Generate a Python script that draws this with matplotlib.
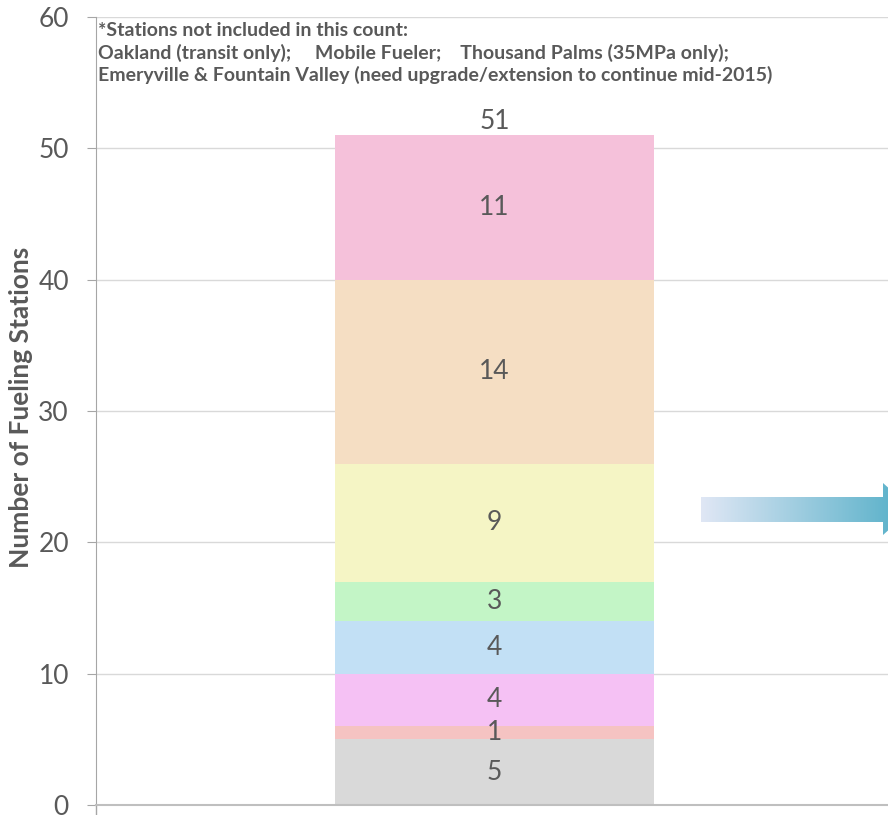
import numpy as np
import matplotlib.pyplot as plt
from matplotlib.patches import Polygon
from matplotlib.colors import LinearSegmentedColormap

# station counts, bottom to top
counts = [5, 1, 4, 4, 3, 9, 14, 11]
colors = ['#D9D9D9', '#F5C3C2', '#F5C1F4', '#C2E0F5', '#C3F5C6', '#F5F5C5', '#F5DEC3', '#F5C1DA']
total = sum(counts)
yticks = [0, 10, 20, 30, 40, 50, 60]
note = ['*Stations not included in this count:',
        'Oakland (transit only);     Mobile Fueler;    Thousand Palms (35MPa only);',
        'Emeryville & Fountain Valley (need upgrade/extension to continue mid-2015)']

plt.rcParams['font.family'] = ['Lato', 'DejaVu Sans']
grey = '#595959'

fig = plt.figure(figsize=(8.88, 8.15), dpi=100)
ax = fig.add_axes([96/888, 10/815, 797/888, 788/815])

bottom = 0
for c, col in zip(counts, colors):
    ax.bar(0, c, width=0.4, bottom=bottom, color=col, zorder=2)
    ax.text(0, bottom + c/2, str(c), ha='center', va='center', fontsize=19, color=grey, zorder=3)
    bottom += c
ax.text(0, total + 1.05, str(total), ha='center', va='center', fontsize=19, color=grey)

ax.set_xlim(-0.5, 0.5)
ax.set_ylim(0, 60)
ax.set_yticks(yticks)
ax.set_xticks([])
ax.tick_params(axis='y', length=6.5, color='#A6A6A6', labelsize=19, labelcolor=grey, pad=13)
ax.grid(axis='y', color='#D9D9D9', lw=1, zorder=0)
ax.set_axisbelow(True)
for s in ['top', 'right']:
    ax.spines[s].set_visible(False)
ax.spines['left'].set_color('#A6A6A6')
ax.spines['bottom'].set_color('#BFBFBF')
ax.spines['bottom'].set_linewidth(1.5)

fig.text(21/888, 0.5, 'Number of Fueling Stations', rotation=90, ha='center', va='center',
         fontsize=19, fontweight='bold', color=grey)

# overlay in pixel coords for note + arrow
ov = fig.add_axes([0, 0, 1, 1])
ov.set_xlim(0, 888)
ov.set_ylim(815, 0)
ov.axis('off')
ov.patch.set_visible(False)

for i, line in enumerate(note):
    ov.text(98, 36 + 22.5*i, line, ha='left', va='baseline', fontsize=14,
            fontweight='bold', color=grey)

ov.plot([95.5, 95.5], [806, 815], color='#A6A6A6', lw=1)

cmap = LinearSegmentedColormap.from_list('arr', ['#E0E7F5', '#52AEC7'])
grad = np.linspace(0, 1, 256).reshape(1, -1)
im = ov.imshow(grad, cmap=cmap, extent=[701, 912, 535, 483], aspect='auto')
arrow = Polygon([(701, 497), (883, 497), (883, 483), (912, 509), (883, 535), (883, 522), (701, 522)],
                closed=True, transform=ov.transData, fill=False, lw=0)
ov.add_patch(arrow)
im.set_clip_path(arrow)
ov.set_xlim(0, 888)
ov.set_ylim(815, 0)

fig.savefig('out.png', dpi=100)
